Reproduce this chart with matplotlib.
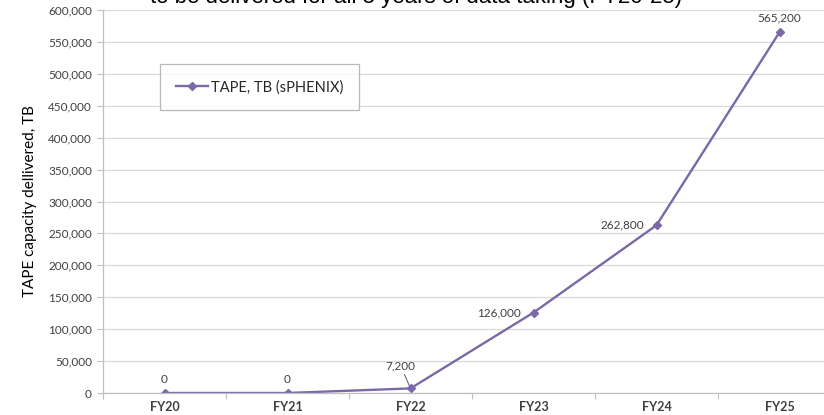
import numpy as np
import matplotlib
matplotlib.use("Agg")
from matplotlib import pyplot as plt

# Data
years = ["FY20", "FY21", "FY22", "FY23", "FY24", "FY25"]
tape_tb = [0, 0, 7200, 126000, 262800, 565200]
label_text = ["0", "0", "7,200", "126,000", "262,800", "565,200"]

line_col = "#7B68A6"
grid_col = "#D9D9D9"
txt_col = "#404040"

plt.rcParams["font.family"] = ["Lato", "DejaVu Sans"]

fig = plt.figure(figsize=(8.24, 4.15), dpi=100)
fig.patch.set_facecolor("white")

# axes run past the right edge, like the cropped slide
ax = fig.add_axes([103/824, 22/415, 738/824, 383/415])

x = np.arange(len(years))
ax.plot(x, tape_tb, color=line_col, lw=1.7, marker="D", ms=4,
        label="TAPE, TB (sPHENIX)")

ax.set_xlim(-0.5, len(years) - 0.5)
ax.set_ylim(0, 600000)
ax.set_yticks(np.arange(0, 600001, 50000))
ax.set_yticklabels([f"{v:,}" for v in range(0, 600001, 50000)])
ax.yaxis.grid(True, color=grid_col, lw=0.9)
ax.set_axisbelow(True)

ax.set_xticks(x)
ax.set_xticklabels(years, fontweight="bold")
ax.set_xticks(np.arange(-0.5, len(years)), minor=True)
ax.tick_params(axis="x", which="major", length=0, pad=6, labelsize=9, labelcolor=txt_col)
ax.tick_params(axis="x", which="minor", length=4, color="#BFBFBF", width=0.8)
ax.tick_params(axis="y", length=4, color="#BFBFBF", width=0.8, labelsize=8.5, labelcolor=txt_col, pad=4)

for s in ["top", "right"]:
    ax.spines[s].set_visible(False)
for s in ["left", "bottom"]:
    ax.spines[s].set_color("#BFBFBF")
    ax.spines[s].set_linewidth(0.9)

ax.set_ylabel("TAPE capacity dellivered, TB", fontsize=11, color="black", labelpad=8)

# data labels
offsets = [((0, 10), "center"), ((0, 10), "center"), ((-7, 16), "center"),
           ((-9, 0), "right"), ((-9, 0), "right"), ((0, 10), "center")]
for i, (val, txt) in enumerate(zip(tape_tb, label_text)):
    off, ha = offsets[i]
    arrow = None
    if i == 2:
        arrow = dict(arrowstyle="-", color="#595959", lw=0.7, shrinkA=0, shrinkB=2)
    ax.annotate(txt, (x[i], val), xytext=off, textcoords="offset points",
                ha=ha, va="center", fontsize=8.5, color=txt_col, arrowprops=arrow)

leg = ax.legend(loc="upper left", bbox_to_anchor=(57/738, 1 - 54/383),
                frameon=True, fancybox=False, fontsize=10.5, handlelength=2.2,
                borderpad=1.1, borderaxespad=0, handletextpad=0.2)
leg.get_frame().set_edgecolor("#A6A6A6")
leg.get_frame().set_linewidth(0.9)
for t in leg.get_texts():
    t.set_color("#262626")

# cropped slide title at the top
fig.text(416/824, 1 - 3/415, "to be delivered for all 5 years of data taking (FY20-25)",
         ha="center", va="baseline", fontsize=16, color="black",
         family=["Liberation Sans", "DejaVu Sans"])

fig.savefig("out.png", dpi=100)
